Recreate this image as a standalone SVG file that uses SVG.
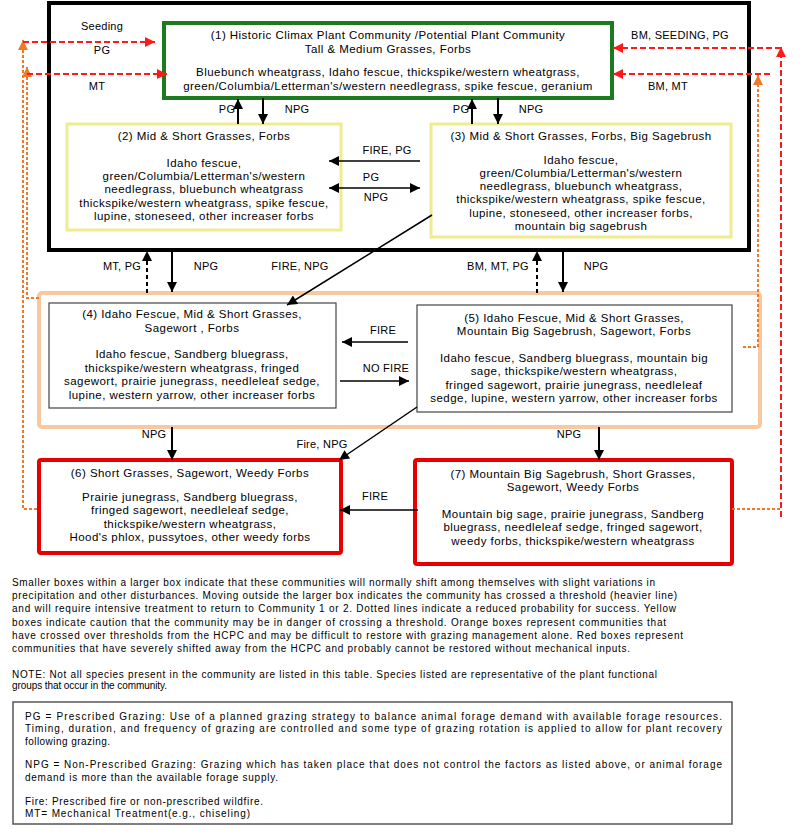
<svg xmlns="http://www.w3.org/2000/svg" width="800" height="840" viewBox="0 0 800 840">
<style>
text{font-family:"Liberation Sans",Arial,sans-serif;fill:#000}
.bt{font-size:11.5px;text-anchor:middle;letter-spacing:0.45px}
.lb{font-size:11px;text-anchor:middle;letter-spacing:0.25px}
.pt{font-size:10px}
.k{stroke:#000;stroke-width:2;fill:none}
.kt{stroke:#000;stroke-width:1.5;fill:none}
.kd{stroke:#000;stroke-width:2;fill:none;stroke-dasharray:4,3}
.rd{stroke:#ff1a1a;stroke-width:2;fill:none;stroke-dasharray:6,3}
.od{stroke:#f07828;stroke-width:2;fill:none;stroke-dasharray:3,2}
</style>
<defs>
<marker id="ab" viewBox="0 0 10 10" refX="10" refY="5" markerWidth="12" markerHeight="10" markerUnits="userSpaceOnUse" orient="auto-start-reverse"><path d="M0,0 L10,5 L0,10 z" fill="#000"/></marker>
<marker id="ar" viewBox="0 0 10 10" refX="10" refY="5" markerWidth="12" markerHeight="10" markerUnits="userSpaceOnUse" orient="auto"><path d="M0,0 L10,5 L0,10 z" fill="#ff1a1a"/></marker>
<marker id="ao" viewBox="0 0 10 10" refX="10" refY="5" markerWidth="12" markerHeight="10" markerUnits="userSpaceOnUse" orient="auto"><path d="M0,0 L10,5 L0,10 z" fill="#f07828"/></marker>
</defs>
<rect width="800" height="840" fill="#fff"/>

<g id="outer-threshold">
<rect x="49" y="3" width="700" height="247" fill="none" stroke="#000" stroke-width="4"/>
</g>
<g id="orange-group">
<rect x="39" y="293" width="721" height="134" rx="3" fill="none" stroke="#f8c8a0" stroke-width="4"/>
</g>

<g id="node-1">
<rect x="164" y="23" width="448" height="75" fill="#fff" stroke="#1e7a1e" stroke-width="4"/>
<text class="bt" x="388" y="39">(1)  Historic Climax Plant Community /Potential Plant Community</text>
<text class="bt" x="388" y="53">Tall &amp; Medium Grasses, Forbs</text>
<text class="bt" x="388" y="76">Bluebunch wheatgrass, Idaho fescue, thickspike/western wheatgrass,</text>
<text class="bt" x="388" y="90">green/Columbia/Letterman's/western needlegrass, spike fescue, geranium</text>
</g>

<g id="node-2">
<rect x="67" y="124" width="274" height="106" fill="#fff" stroke="#efeb8e" stroke-width="3"/>
<text class="bt" x="204" y="140">(2)  Mid &amp; Short Grasses, Forbs</text>
<text class="bt" x="204" y="167">Idaho fescue,</text>
<text class="bt" x="204" y="180">green/Columbia/Letterman's/western</text>
<text class="bt" x="204" y="193">needlegrass, bluebunch wheatgrass</text>
<text class="bt" x="204" y="207">thickspike/western wheatgrass, spike fescue,</text>
<text class="bt" x="204" y="220">lupine, stoneseed, other increaser forbs</text>
</g>

<g id="node-3">
<rect x="431" y="124" width="300" height="113" fill="#fff" stroke="#efeb8e" stroke-width="3"/>
<text class="bt" x="581" y="140">(3)  Mid &amp; Short Grasses, Forbs, Big Sagebrush</text>
<text class="bt" x="581" y="164">Idaho fescue,</text>
<text class="bt" x="581" y="177">green/Columbia/Letterman's/western</text>
<text class="bt" x="581" y="190">needlegrass, bluebunch wheatgrass,</text>
<text class="bt" x="581" y="203">thickspike/western wheatgrass, spike fescue,</text>
<text class="bt" x="581" y="217">lupine, stoneseed, other increaser forbs,</text>
<text class="bt" x="581" y="230">mountain big sagebrush</text>
</g>

<g id="node-4">
<rect x="49" y="303" width="287" height="105" fill="#fff" stroke="#444" stroke-width="1.2"/>
<text class="bt" x="192" y="318">(4)  Idaho Fescue, Mid &amp; Short Grasses,</text>
<text class="bt" x="192" y="332">Sagewort , Forbs</text>
<text class="bt" x="192" y="358">Idaho fescue, Sandberg bluegrass,</text>
<text class="bt" x="192" y="372">thickspike/western wheatgrass, fringed</text>
<text class="bt" x="192" y="385">sagewort, prairie junegrass, needleleaf sedge,</text>
<text class="bt" x="192" y="399">lupine, western yarrow, other increaser forbs</text>
</g>

<g id="node-5">
<rect x="417" y="305" width="315" height="107" fill="#fff" stroke="#444" stroke-width="1.2"/>
<text class="bt" x="574" y="322">(5)  Idaho Fescue, Mid &amp; Short Grasses,</text>
<text class="bt" x="574" y="335">Mountain Big Sagebrush, Sagewort, Forbs</text>
<text class="bt" x="574" y="362">Idaho fescue, Sandberg bluegrass, mountain big</text>
<text class="bt" x="574" y="375">sage, thickspike/western wheatgrass,</text>
<text class="bt" x="574" y="389">fringed sagewort, prairie junegrass, needleleaf</text>
<text class="bt" x="574" y="402">sedge, lupine, western yarrow, other increaser forbs</text>
</g>

<g id="node-6">
<rect x="39" y="460" width="302" height="93" rx="2" fill="#fff" stroke="#e60000" stroke-width="4"/>
<text class="bt" x="190" y="477">(6)  Short Grasses, Sagewort, Weedy Forbs</text>
<text class="bt" x="190" y="501">Prairie junegrass, Sandberg bluegrass,</text>
<text class="bt" x="190" y="514">fringed sagewort, needleleaf sedge,</text>
<text class="bt" x="190" y="528">thickspike/western wheatgrass,</text>
<text class="bt" x="190" y="541">Hood's phlox, pussytoes, other weedy forbs</text>
</g>

<g id="node-7">
<rect x="415" y="460" width="317" height="104" rx="2" fill="#fff" stroke="#e60000" stroke-width="4"/>
<text class="bt" x="573" y="478">(7)  Mountain Big Sagebrush, Short Grasses,</text>
<text class="bt" x="573" y="491">Sagewort, Weedy Forbs</text>
<text class="bt" x="573" y="518">Mountain big sage, prairie junegrass, Sandberg</text>
<text class="bt" x="573" y="531">bluegrass, needleleaf sedge, fringed sagewort,</text>
<text class="bt" x="573" y="545">weedy forbs, thickspike/western wheatgrass</text>
</g>

<g id="connectors">
<line class="k" x1="238" y1="124" x2="238" y2="99" marker-end="url(#ab)"/>
<line class="k" x1="263" y1="98" x2="263" y2="124" marker-end="url(#ab)"/>
<line class="k" x1="472" y1="124" x2="472" y2="99" marker-end="url(#ab)"/>
<line class="k" x1="498" y1="98" x2="498" y2="124" marker-end="url(#ab)"/>
<line class="kt" x1="420" y1="161" x2="329" y2="161" marker-end="url(#ab)"/>
<line class="kt" x1="329" y1="188" x2="420" y2="188" marker-start="url(#ab)" marker-end="url(#ab)"/>
<line class="kt" x1="432" y1="215" x2="287" y2="305" marker-end="url(#ab)"/>
<line class="kd" x1="147" y1="293" x2="147" y2="251" marker-end="url(#ab)"/>
<line class="k" x1="172" y1="250" x2="172" y2="292" marker-end="url(#ab)"/>
<line class="kd" x1="537" y1="293" x2="537" y2="251" marker-end="url(#ab)"/>
<line class="k" x1="563" y1="250" x2="563" y2="292" marker-end="url(#ab)"/>
<line class="kt" x1="408" y1="342" x2="342" y2="342" marker-end="url(#ab)"/>
<line class="kt" x1="340" y1="381" x2="409" y2="381" marker-end="url(#ab)"/>
<line class="kt" x1="417" y1="407" x2="339" y2="460" marker-end="url(#ab)"/>
<line class="k" x1="172" y1="427" x2="172" y2="460" marker-end="url(#ab)"/>
<line class="k" x1="599" y1="427" x2="599" y2="460" marker-end="url(#ab)"/>
<line class="kt" x1="418" y1="510" x2="340" y2="510" marker-end="url(#ab)"/>
<polyline class="od" points="37,509 23,509 23,40" marker-end="url(#ao)"/>
<line class="rd" x1="23" y1="42" x2="155" y2="42" marker-end="url(#ar)"/>
<polyline class="od" points="39,298 27,298 27,67" marker-end="url(#ao)"/>
<line class="rd" x1="27" y1="74" x2="167" y2="74" marker-end="url(#ar)"/>
<line class="od" x1="732" y1="509" x2="781" y2="509"/>
<line class="rd" x1="781" y1="517" x2="781" y2="47" marker-end="url(#ar)"/>
<line class="rd" x1="781" y1="48" x2="613" y2="48" marker-end="url(#ar)"/>
<polyline class="od" points="743,347 758,347 758,75" marker-end="url(#ao)"/>
<line class="rd" x1="770" y1="74" x2="613" y2="74" marker-end="url(#ar)"/>
</g>

<g id="connector-labels">
<text class="lb" x="102" y="30">Seeding</text>
<text class="lb" x="102" y="54">PG</text>
<text class="lb" x="97" y="90">MT</text>
<text class="lb" x="680" y="39">BM, SEEDING, PG</text>
<text class="lb" x="668" y="90">BM, MT</text>
<text class="lb" x="227" y="113">PG</text>
<text class="lb" x="297" y="113">NPG</text>
<text class="lb" x="461" y="113">PG</text>
<text class="lb" x="531" y="113">NPG</text>
<text class="lb" x="387" y="154">FIRE, PG</text>
<text class="lb" x="371" y="181">PG</text>
<text class="lb" x="376" y="201">NPG</text>
<text class="lb" x="122" y="270">MT, PG</text>
<text class="lb" x="206" y="270">NPG</text>
<text class="lb" x="300" y="270">FIRE, NPG</text>
<text class="lb" x="498" y="270">BM, MT, PG</text>
<text class="lb" x="596" y="270">NPG</text>
<text class="lb" x="383" y="334">FIRE</text>
<text class="lb" x="386" y="372">NO FIRE</text>
<text class="lb" x="322" y="448">Fire, NPG</text>
<text class="lb" x="154" y="438">NPG</text>
<text class="lb" x="569" y="438">NPG</text>
<text class="lb" x="375" y="500">FIRE</text>
</g>

<g id="notes">
<text class="pt" x="12" y="586" textLength="643" lengthAdjust="spacing">Smaller boxes within a larger box indicate that these communities will normally shift among themselves with slight variations in</text>
<text class="pt" x="12" y="599" textLength="665" lengthAdjust="spacing">precipitation and other disturbances.  Moving outside the larger box indicates the community has crossed a threshold (heavier line)</text>
<text class="pt" x="12" y="612" textLength="664" lengthAdjust="spacing">and will require intensive treatment to return to Community 1 or 2.  Dotted lines indicate a reduced probability for success.  Yellow</text>
<text class="pt" x="12" y="626" textLength="654" lengthAdjust="spacing">boxes indicate caution that the community may be in danger of crossing a threshold.  Orange boxes represent communities that</text>
<text class="pt" x="12" y="639" textLength="671" lengthAdjust="spacing">have crossed over thresholds from the HCPC and may be difficult to restore with grazing management alone.  Red boxes represent</text>
<text class="pt" x="12" y="652" textLength="618" lengthAdjust="spacing">communities that have severely shifted away from the HCPC and probably cannot be restored without mechanical inputs.</text>
<text class="pt" x="12" y="678" textLength="645" lengthAdjust="spacing">NOTE:  Not all species present in the community are listed in this table.  Species listed are representative of the plant functional</text>
<text class="pt" x="12" y="689" textLength="155" lengthAdjust="spacing">groups that occur in the community.</text>
</g>

<g id="legend">
<rect x="13" y="702" width="719" height="122" fill="#fff" stroke="#555" stroke-width="1.5"/>
<text class="pt" x="25" y="720" textLength="697" lengthAdjust="spacing">PG = Prescribed Grazing:  Use of a planned grazing strategy to balance animal forage demand with available forage resources.</text>
<text class="pt" x="25" y="732" textLength="697" lengthAdjust="spacing">Timing, duration, and frequency of grazing are controlled and some type of grazing rotation is applied to allow for plant recovery</text>
<text class="pt" x="25" y="745" textLength="85" lengthAdjust="spacing">following grazing.</text>
<text class="pt" x="25" y="768" textLength="697" lengthAdjust="spacing">NPG = Non-Prescribed Grazing:  Grazing which has taken place that does not control the factors as listed above, or animal forage</text>
<text class="pt" x="25" y="781" textLength="253" lengthAdjust="spacing">demand is more than the available forage supply.</text>
<text class="pt" x="25" y="805" textLength="238" lengthAdjust="spacing">Fire:  Prescribed fire or non-prescribed wildfire.</text>
<text class="pt" x="25" y="817" textLength="225" lengthAdjust="spacing">MT= Mechanical Treatment(e.g., chiseling)</text>
</g>
</svg>
